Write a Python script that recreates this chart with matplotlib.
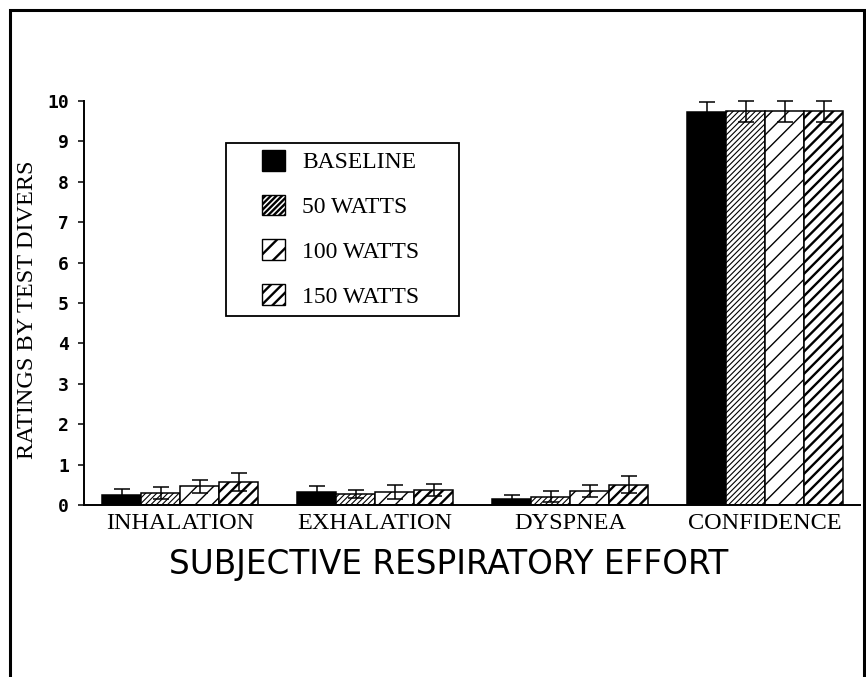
import matplotlib
matplotlib.use('Agg')
import matplotlib.pyplot as plt
import numpy as np
from matplotlib.patches import Rectangle, Patch

# ---- data ----
categories = ['INHALATION', 'EXHALATION', 'DYSPNEA', 'CONFIDENCE']
series_names = ['BASELINE', '50 WATTS', '100 WATTS', '150 WATTS']
baseline = [0.25, 0.31, 0.14, 9.72]
baseline_err = [0.15, 0.15, 0.11, 0.25]
w50 = [0.29, 0.28, 0.21, 9.75]
w50_err = [0.15, 0.10, 0.13, 0.26]
w100 = [0.46, 0.33, 0.35, 9.75]
w100_err = [0.16, 0.17, 0.15, 0.26]
w150 = [0.56, 0.38, 0.50, 9.75]
w150_err = [0.22, 0.15, 0.21, 0.26]
yticks = list(range(0, 11))

values = [baseline, w50, w100, w150]
errors = [baseline_err, w50_err, w100_err, w150_err]

# ---- styles ----
faces = ['black', 'white', 'white', 'white']
hatches = [None, '//////', '//', '///']
hatch_lws = [1.0, 0.8, 1.0, 1.7]

W, H = 866, 677
fig = plt.figure(figsize=(W / 100, H / 100), dpi=100)
fig.patch.set_facecolor('white')

ax_l, ax_r, ax_t, ax_b = 84, 860, 101, 505
ax = fig.add_axes([ax_l / W, 1 - ax_b / H, (ax_r - ax_l) / W, (ax_b - ax_t) / H])

x = np.arange(len(categories))
bw = 0.2
for i in range(4):
    plt.rcParams['hatch.linewidth'] = hatch_lws[i]
    plt.rcParams['hatch.color'] = 'black'
    pos = x + (i - 1.5) * bw
    ax.bar(pos, values[i], width=bw, color=faces[i], edgecolor='black',
           linewidth=1.1, hatch=hatches[i], zorder=2)
    ax.errorbar(pos, values[i], yerr=errors[i], fmt='none', ecolor='black',
                elinewidth=1.1, capsize=5.5, capthick=1.1, zorder=3, clip_on=False)

left_units = (ax_l - 180) / 195
ax.set_xlim(left_units, left_units + (ax_r - ax_l) / 195)
ax.set_ylim(0, 10)
ax.set_yticks(yticks)
ax.set_yticklabels([str(t) for t in yticks], family='DejaVu Sans Mono',
                   fontweight='bold', fontsize=13)
ax.set_xticks(x)
ax.set_xticklabels(categories, family='Liberation Serif', fontsize=17.5)
ax.tick_params(axis='x', length=0, pad=5.5)
ax.tick_params(axis='y', length=4.3, width=1.1, direction='out', pad=6.5)

for s in ['top', 'right']:
    ax.spines[s].set_visible(False)
for s in ['left', 'bottom']:
    ax.spines[s].set_linewidth(1.4)

ax.set_xlabel('SUBJECTIVE RESPIRATORY EFFORT', family='DejaVu Sans',
              fontsize=23.5, labelpad=10, x=(449 - ax_l) / (ax_r - ax_l))
ax.set_ylabel('RATINGS BY TEST DIVERS', family='Liberation Serif',
              fontsize=17.5, labelpad=6.5, y=0.483)

# legend
handles = []
for i in range(4):
    plt.rcParams['hatch.linewidth'] = hatch_lws[i]
    handles.append(Patch(facecolor=faces[i], edgecolor='black', hatch=hatches[i],
                         linewidth=1.0))
leg = fig.legend(handles, series_names, loc='upper left',
                 bbox_to_anchor=(262 / W, 1 - 150 / H),
                 frameon=False, prop={'family': 'Liberation Serif', 'size': 17},
                 handlelength=0.975, handleheight=0.975, handletextpad=0.72,
                 labelspacing=0.9, borderpad=0, borderaxespad=0)
fig.add_artist(Rectangle((226 / W, 1 - 316 / H), 233 / W, 173 / H,
                         transform=fig.transFigure, fill=False,
                         edgecolor='black', linewidth=1.3))

# outer border (open at the bottom)
fig.add_artist(Rectangle((9.7 / W, -0.05), 854 / W, 1.05 - 10 / H,
                         transform=fig.transFigure, fill=False,
                         edgecolor='black', linewidth=2.2))

fig.savefig('out.png', dpi=100)
